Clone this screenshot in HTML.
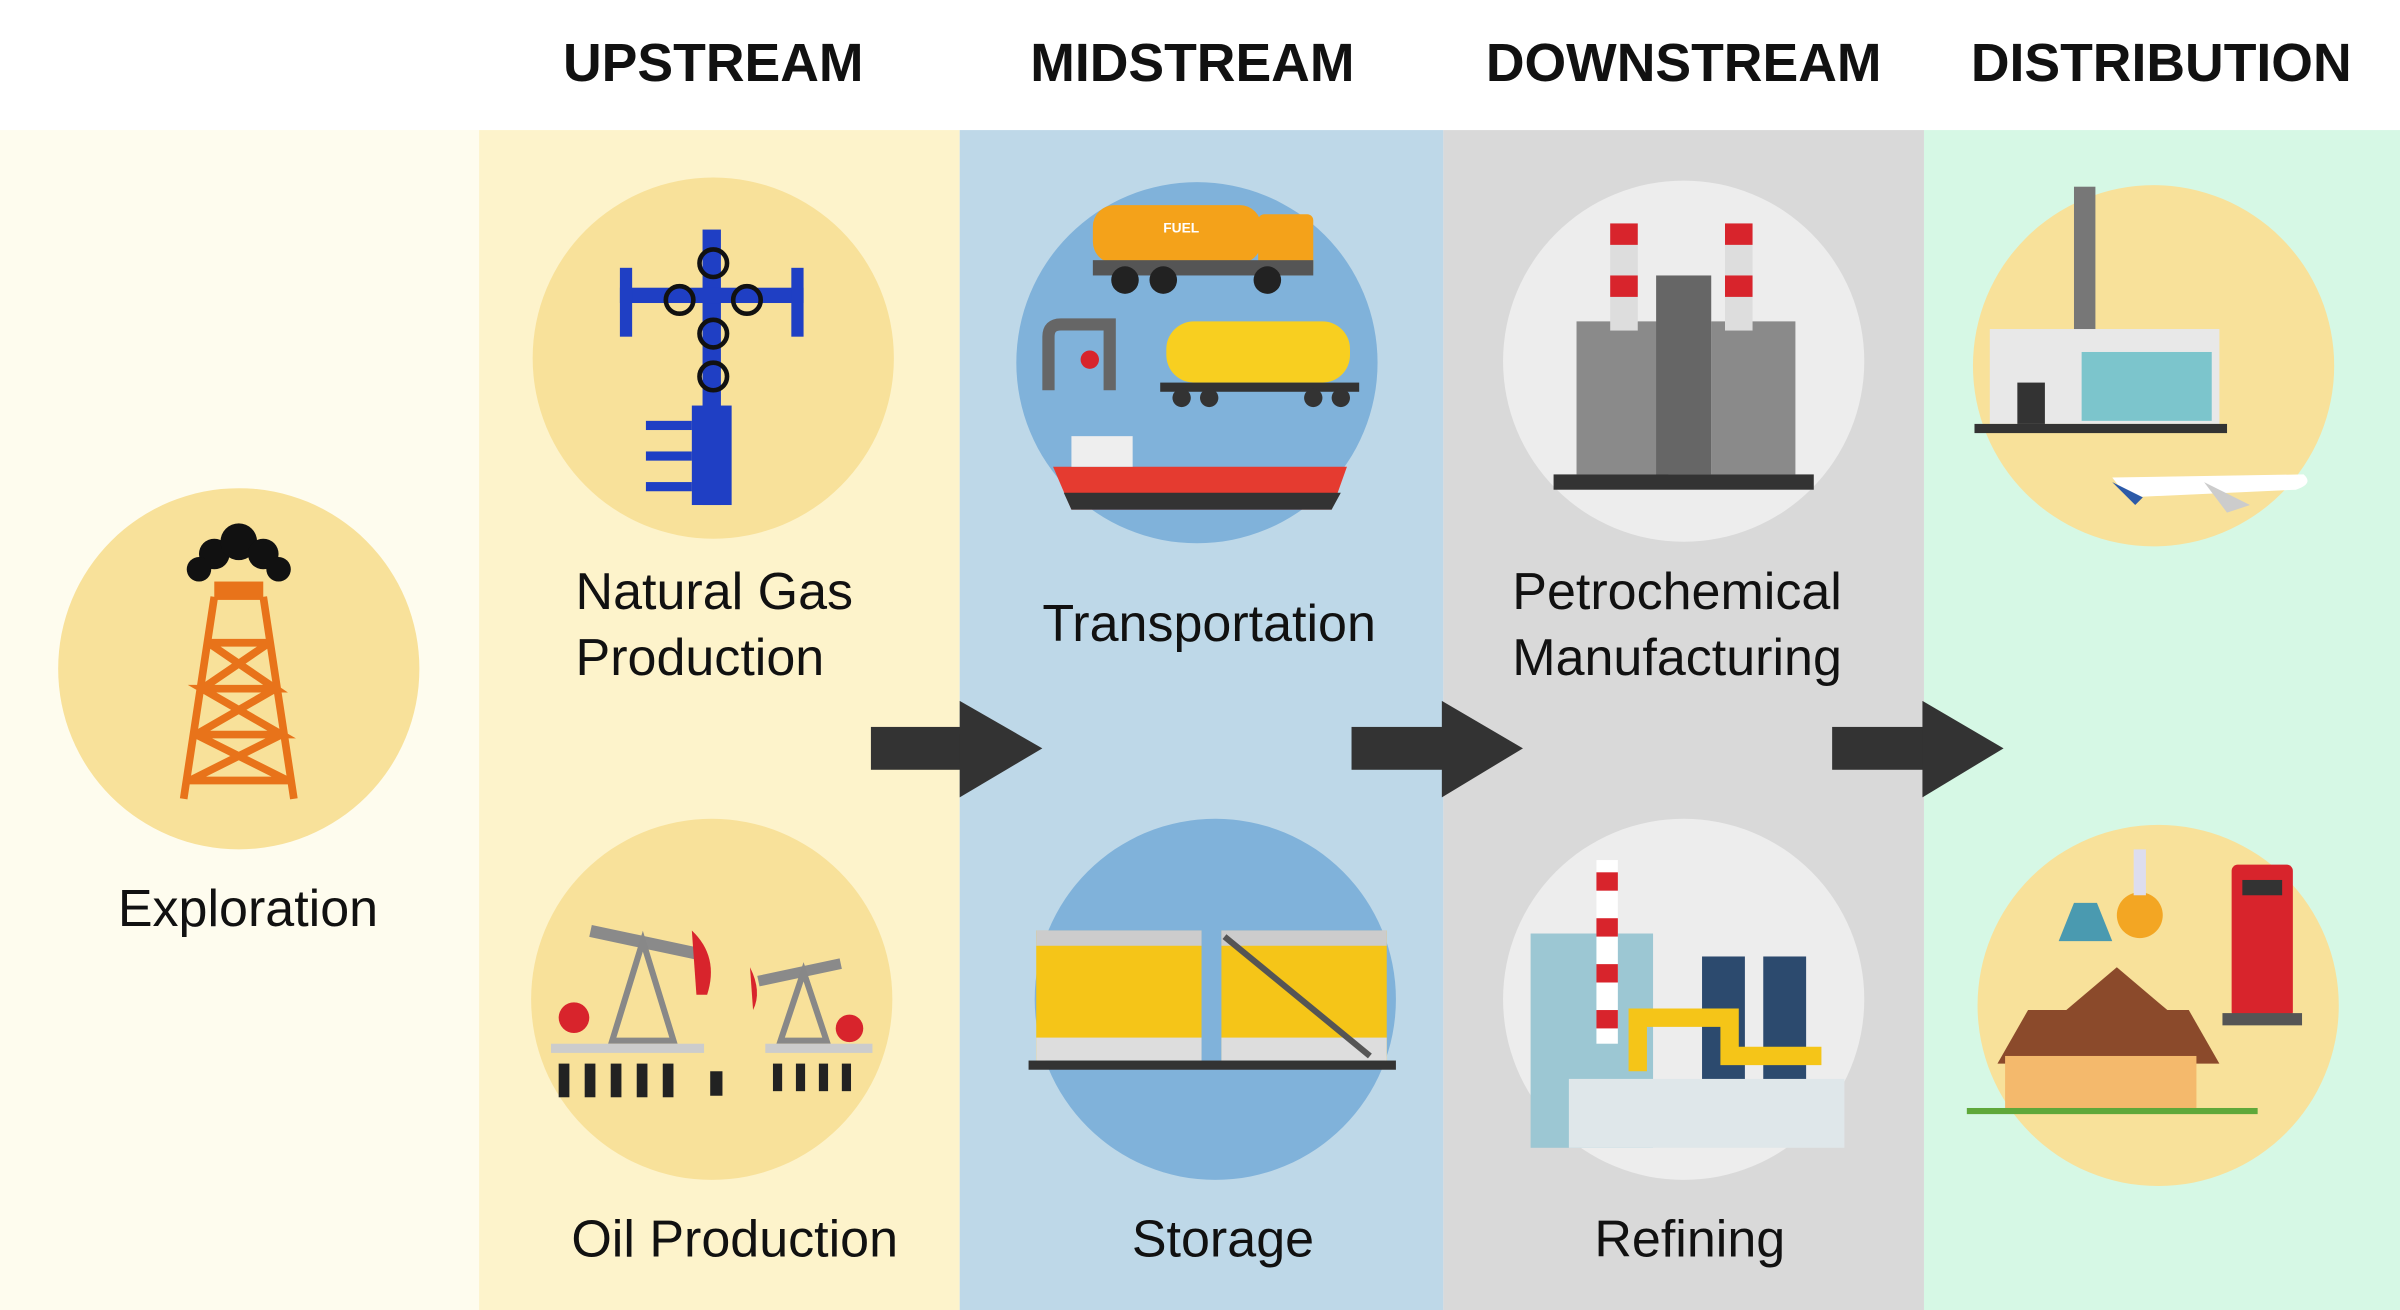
<!DOCTYPE html>
<html><head><meta charset="utf-8"><style>html,body{margin:0;padding:0;background:#fff}svg{display:block}</style></head>
<body>
<svg width="2400" height="1310" viewBox="0 0 1568 856" preserveAspectRatio="none" xmlns="http://www.w3.org/2000/svg" font-family="Liberation Sans, sans-serif">
<rect x="0" y="0" width="1568" height="856" fill="#fff"/>
<rect x="0" y="85" width="313" height="771" fill="#fefcee"/>
<rect x="313" y="85" width="314" height="771" fill="#fdf3cb"/>
<rect x="627" y="85" width="316" height="771" fill="#bed8e8"/>
<rect x="943" y="85" width="314" height="771" fill="#d9d9d9"/>
<rect x="1257" y="85" width="311" height="771" fill="#d6f8e5"/>
<g font-weight="bold" font-size="35" fill="#111" text-anchor="middle">
<text x="466" y="53">UPSTREAM</text><text x="779" y="53">MIDSTREAM</text><text x="1100" y="53">DOWNSTREAM</text><text x="1412" y="53">DISTRIBUTION</text></g>
<!-- circles -->
<circle cx="156" cy="437" r="118" fill="#f8e19a"/>
<circle cx="466" cy="234" r="118" fill="#f8e19a"/>
<circle cx="465" cy="653" r="118" fill="#f8e19a"/>
<circle cx="782" cy="237" r="118" fill="#80b2da"/>
<circle cx="794" cy="653" r="118" fill="#80b2da"/>
<circle cx="1100" cy="236" r="118" fill="#ededed"/>
<circle cx="1100" cy="653" r="118" fill="#ededed"/>
<circle cx="1407" cy="239" r="118" fill="#f8e19a"/>
<circle cx="1410" cy="657" r="118" fill="#f8e19a"/>
<!-- derrick -->
<g fill="none" stroke="#e8731a" stroke-width="5"><path d="M140 390 L120 522 M172 390 L192 522 M136 420 L176 420 M132 450 L180 450 M128 480 L184 480 M124 510 L188 510 M136 420 L180 450 L132 450 L184 480 L128 480 L188 510 M176 420 L132 450 M180 450 L128 480 M184 480 L124 510"/></g>
<rect x="140" y="380" width="32" height="12" fill="#e8731a"/>
<g fill="#111"><circle cx="140" cy="362" r="10"/><circle cx="156" cy="354" r="12"/><circle cx="172" cy="362" r="10"/><circle cx="130" cy="372" r="8"/><circle cx="182" cy="372" r="8"/></g>
<!-- wellhead -->
<g fill="#1f3fc4"><rect x="459" y="150" width="12" height="180"/><rect x="405" y="188" width="120" height="10"/><rect x="452" y="265" width="26" height="65"/><rect x="422" y="275" width="30" height="6"/><rect x="422" y="295" width="30" height="6"/><rect x="422" y="315" width="30" height="6"/><rect x="405" y="175" width="8" height="45"/><rect x="517" y="175" width="8" height="45"/></g>
<g fill="none" stroke="#111" stroke-width="3"><circle cx="466" cy="172" r="9"/><circle cx="444" cy="196" r="9"/><circle cx="488" cy="196" r="9"/><circle cx="466" cy="218" r="9"/><circle cx="466" cy="246" r="9"/></g>
<!-- pumpjacks -->
<g fill="#8a8a8a"><rect x="385" y="612" width="75" height="8" transform="rotate(12 422 616)"/><rect x="495" y="632" width="55" height="7" transform="rotate(-12 522 636)"/><path d="M400 680 L420 615 L440 680Z" fill="none" stroke="#888" stroke-width="4"/><path d="M510 680 L525 635 L540 680Z" fill="none" stroke="#888" stroke-width="4"/></g>
<path d="M452 608 Q470 625 462 650 L455 650Z" fill="#d8242c"/><path d="M490 632 Q498 648 492 660Z" fill="#d8242c"/>
<circle cx="375" cy="665" r="10" fill="#d8242c"/><circle cx="555" cy="672" r="9" fill="#d8242c"/>
<rect x="360" y="682" width="100" height="6" fill="#ccc"/><rect x="500" y="682" width="70" height="6" fill="#ccc"/>
<g fill="#222"><rect x="365" y="695" width="7" height="22"/><rect x="382" y="695" width="7" height="22"/><rect x="399" y="695" width="7" height="22"/><rect x="416" y="695" width="7" height="22"/><rect x="433" y="695" width="7" height="22"/><rect x="505" y="695" width="6" height="18"/><rect x="520" y="695" width="6" height="18"/><rect x="535" y="695" width="6" height="18"/><rect x="550" y="695" width="6" height="18"/><rect x="464" y="700" width="8" height="16"/></g>
<!-- truck / tanker / ship -->
<rect x="714" y="134" width="110" height="38" rx="14" fill="#f4a21a"/><rect x="822" y="140" width="36" height="40" rx="4" fill="#f4a21a"/><rect x="714" y="170" width="144" height="10" fill="#555"/>
<g fill="#222"><circle cx="735" cy="183" r="9"/><circle cx="760" cy="183" r="9"/><circle cx="828" cy="183" r="9"/></g>
<text x="760" y="152" font-size="9" font-weight="bold" fill="#fff">FUEL</text>
<rect x="762" y="210" width="120" height="40" rx="18" fill="#f8cf20"/><rect x="758" y="250" width="130" height="6" fill="#333"/>
<g fill="#333"><circle cx="772" cy="260" r="6"/><circle cx="790" cy="260" r="6"/><circle cx="858" cy="260" r="6"/><circle cx="876" cy="260" r="6"/></g>
<path d="M685 255 L685 220 Q685 212 693 212 L725 212 L725 255" fill="none" stroke="#666" stroke-width="8"/><circle cx="712" cy="235" r="6" fill="#d8242c"/>
<path d="M688 305 L880 305 L870 333 L700 333Z" fill="#e53b30"/><path d="M695 322 L876 322 L870 333 L700 333Z" fill="#333"/><rect x="700" y="285" width="40" height="20" fill="#eee"/>
<!-- storage tanks -->
<rect x="677" y="608" width="108" height="85" fill="#f5c518"/><rect x="798" y="608" width="108" height="85" fill="#f5c518"/>
<rect x="677" y="608" width="108" height="10" fill="#ccc"/><rect x="798" y="608" width="108" height="10" fill="#ccc"/>
<rect x="677" y="678" width="108" height="15" fill="#ddd"/><rect x="798" y="678" width="108" height="15" fill="#ddd"/>
<rect x="672" y="693" width="240" height="6" fill="#333"/>
<path d="M800 612 L895 690" stroke="#555" stroke-width="4"/>
<!-- petrochemical -->
<g fill="#8a8a8a"><rect x="1030" y="210" width="60" height="100"/><rect x="1118" y="210" width="55" height="100"/><rect x="1082" y="180" width="36" height="130" fill="#666"/></g>
<rect x="1052" y="146" width="18" height="70" fill="#ddd"/><rect x="1127" y="146" width="18" height="70" fill="#ddd"/>
<g fill="#d8242c"><rect x="1052" y="146" width="18" height="14"/><rect x="1052" y="180" width="18" height="14"/><rect x="1127" y="146" width="18" height="14"/><rect x="1127" y="180" width="18" height="14"/></g>
<rect x="1015" y="310" width="170" height="10" fill="#333"/>
<!-- refining -->
<rect x="1000" y="610" width="80" height="140" fill="#9cc7d3"/><rect x="1043" y="562" width="14" height="120" fill="#fff"/>
<g fill="#d8242c"><rect x="1043" y="570" width="14" height="12"/><rect x="1043" y="600" width="14" height="12"/><rect x="1043" y="630" width="14" height="12"/><rect x="1043" y="660" width="14" height="12"/></g>
<rect x="1112" y="625" width="28" height="120" fill="#2c4a6e"/><rect x="1152" y="625" width="28" height="120" fill="#2c4a6e"/>
<path d="M1070 700 L1070 665 L1130 665 L1130 690 L1190 690" fill="none" stroke="#f5c518" stroke-width="12"/>
<rect x="1025" y="705" width="180" height="45" fill="#dfe7ea"/>
<!-- distribution top -->
<rect x="1355" y="122" width="14" height="95" fill="#777"/><rect x="1300" y="215" width="150" height="62" fill="#e8e8e8"/><rect x="1360" y="230" width="85" height="45" fill="#7cc5cc"/><rect x="1318" y="250" width="18" height="27" fill="#333"/><rect x="1290" y="277" width="165" height="6" fill="#333"/>
<path d="M1380 312 L1505 310 Q1512 316 1500 320 L1390 325Z" fill="#fff"/><path d="M1380 315 L1400 325 L1395 330Z" fill="#2c5aa8"/><path d="M1440 315 L1470 330 L1455 335Z" fill="#ccc"/>
<!-- distribution bottom -->
<path d="M1305 695 L1325 660 L1430 660 L1450 695Z" fill="#8b4a2b"/><rect x="1310" y="690" width="125" height="35" fill="#f4b96c"/><path d="M1350 660 L1383 632 L1416 660Z" fill="#8b4a2b"/>
<rect x="1285" y="724" width="190" height="4" fill="#5fa83a"/>
<rect x="1458" y="565" width="40" height="100" rx="4" fill="#d8242c"/><rect x="1465" y="575" width="26" height="10" fill="#333"/><rect x="1452" y="662" width="52" height="8" fill="#555"/>
<circle cx="1398" cy="598" r="15" fill="#f3a623"/><rect x="1394" y="555" width="8" height="30" fill="#dde"/><path d="M1355 590 L1370 590 L1380 615 L1345 615Z" fill="#4a9ab0"/>
<!-- arrows -->
<g fill="#333"><rect x="569" y="475" width="60" height="28"/><path d="M627 458 L681 489 L627 521Z"/>
<rect x="883" y="475" width="61" height="28"/><path d="M942 458 L995 489 L942 521Z"/>
<rect x="1197" y="475" width="61" height="28"/><path d="M1256 458 L1309 489 L1256 521Z"/></g>
<!-- labels -->
<g font-size="34" fill="#111">
<text x="162" y="605" text-anchor="middle">Exploration</text>
<text x="376" y="398">Natural Gas</text><text x="376" y="441">Production</text>
<text x="790" y="419" text-anchor="middle">Transportation</text>
<text x="988" y="398">Petrochemical</text><text x="988" y="441">Manufacturing</text>
<text x="480" y="821" text-anchor="middle">Oil Production</text>
<text x="799" y="821" text-anchor="middle">Storage</text>
<text x="1104" y="821" text-anchor="middle">Refining</text>
</g>
</svg>
</body></html>
